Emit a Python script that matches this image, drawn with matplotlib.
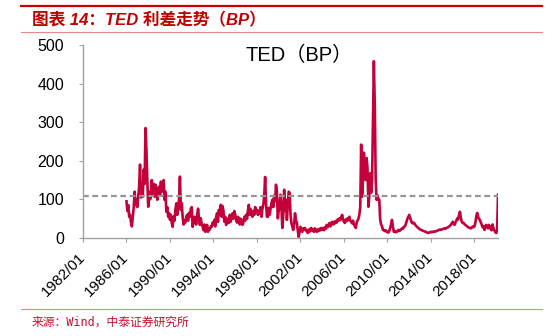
import numpy as np
import pandas as pd
import matplotlib
matplotlib.use('Agg')
import matplotlib.pyplot as plt
from matplotlib.lines import Line2D

# monthly TED spread (bp), 1986/01 .. 2020/03
ted_bp = [
    95, 70, 85, 55, 60, 40, 30, 55, 80, 120, 85, 100,          # 1986
    80, 110, 133, 190, 105, 130, 107, 177, 140, 285, 228, 150,  # 1987
    81, 120, 100, 107, 150, 110, 140, 107, 138, 120, 99, 130,   # 1988
    133, 110, 146, 120, 142, 150, 99, 120, 68, 80, 55, 64,      # 1989
    47, 60, 39, 29, 55, 45, 73, 90, 60, 73, 100, 159,           # 1990
    73, 90, 55, 35, 45, 40, 55, 60, 45, 65, 55, 76,             # 1991
    80, 29, 45, 55, 40, 35, 60, 76, 50, 34, 51, 35,             # 1992
    30, 20, 35, 16, 28, 34, 16, 25, 22, 30, 29, 40,             # 1993
    35, 47, 30, 55, 64, 42, 73, 60, 86, 55, 83, 70,             # 1994
    42, 55, 34, 45, 50, 39, 60, 42, 55, 64, 50, 70,             # 1995
    60, 47, 40, 55, 51, 35, 50, 45, 34, 40, 55, 45,             # 1996
    60, 50, 70, 86, 60, 75, 64, 55, 70, 60, 80, 68,             # 1997
    73, 60, 70, 64, 80, 55, 75, 86, 110, 158, 90, 55,           # 1998
    55, 78, 60, 75, 90, 99, 80, 110, 95, 138, 120, 51,          # 1999
    70, 90, 112, 80, 26, 60, 125, 70, 99, 47, 85, 120,          # 2000
    117, 60, 39, 30, 21, 35, 64, 45, 40, 20, 3, 16,             # 2001
    29, 20, 16, 25, 22, 26, 20, 18, 13, 22, 16, 24,             # 2002
    26, 18, 22, 16, 25, 20, 16, 22, 18, 24, 20, 26,             # 2003
    22, 26, 20, 28, 24, 34, 28, 32, 39, 30, 36, 42,             # 2004
    35, 42, 38, 44, 40, 48, 45, 51, 46, 55, 60, 48,             # 2005
    42, 39, 48, 44, 51, 46, 55, 45, 42, 38, 45, 35,             # 2006
    30, 26, 40, 45, 50, 60, 81, 242, 107, 150, 221, 180,        # 2007
    150, 207, 180, 81, 110, 168, 117, 150, 300, 458, 340, 150,  # 2008
    99, 110, 99, 99, 47, 35, 30, 21, 20, 18, 20, 16,            # 2009
    16, 14, 18, 26, 35, 47, 30, 16, 18, 15, 16, 17,             # 2010
    21, 18, 20, 22, 25, 24, 28, 30, 34, 42, 50, 55,             # 2011
    60, 52, 45, 39, 38, 40, 37, 33, 30, 28, 26, 24,             # 2012
    22, 21, 20, 19, 18, 17, 16, 15, 14, 13, 14, 15,             # 2013
    16, 15, 16, 17, 16, 17, 18, 19, 20, 21, 22, 21,             # 2014
    22, 23, 24, 25, 24, 26, 27, 28, 30, 32, 34, 38,             # 2015
    42, 38, 34, 40, 45, 51, 48, 60, 68, 52, 42, 39,             # 2016
    39, 36, 34, 32, 30, 28, 27, 26, 25, 27, 30, 28,             # 2017
    30, 40, 55, 65, 55, 50, 47, 40, 35, 28, 30, 21,             # 2018
    30, 34, 28, 25, 34, 30, 22, 20, 35, 25, 20, 15,             # 2019
    13, 20, 112,                                                # 2020
]
start_month = '1986-01-01'
mean_level = 110
tick_years = list(range(1982, 2019, 4))
y_ticks = [0, 100, 200, 300, 400, 500]

title = '图表 14：TED 利差走势（BP）'
inner_title = 'TED（BP）'
source = '来源：Wind，中泰证券研究所'

dates = pd.date_range(start_month, periods=len(ted_bp), freq='MS')

W, H = 548, 336
fig = plt.figure(figsize=(W / 100, H / 100), dpi=100)
ax = fig.add_axes([83 / W, 1 - 238 / H, (498 - 83) / W, (238 - 45) / H])

ax.plot(dates, ted_bp, color='#C4003A', lw=1.9)
ax.axhline(mean_level, color='#959595', lw=1.6, ls=(0, (2.6, 1.6)))

ax.set_xlim(pd.Timestamp('1982-01-01'), dates[-1])
ax.set_ylim(0, 500)
ax.set_yticks(y_ticks)
ax.set_yticklabels([str(v) for v in y_ticks], fontsize=11.5, family='Liberation Sans')

xt = [pd.Timestamp(f'{y}-01-01') for y in tick_years]
ax.set_xticks(xt)
ax.set_xticklabels([f'{y}/01' for y in tick_years], rotation=45, ha='right',
                   va='center', rotation_mode='anchor', fontsize=11,
                   family='Liberation Sans')

for s in ['top', 'right']:
    ax.spines[s].set_visible(False)
for s in ['left', 'bottom']:
    ax.spines[s].set_color('#A0A0A0')
    ax.spines[s].set_linewidth(1.0)
ax.tick_params(axis='y', length=3, color='#A0A0A0', pad=10.5)
ax.tick_params(axis='x', length=3, color='#A0A0A0', pad=9)

fig.text(245 / W, 1 - 55 / H, inner_title, fontsize=14.5, va='center', ha='left',
         family=['Liberation Sans', 'Noto Sans CJK SC'])

# header / footer rules and texts
fig.add_artist(Line2D([21 / W, 542 / W], [1 - 5.5 / H] * 2, color='#CC0000', lw=1.6))
fig.add_artist(Line2D([21 / W, 542 / W], [1 - 32.3 / H] * 2, color='#E48A8A', lw=0.8))
fig.add_artist(Line2D([21 / W, 542 / W], [1 - 309.3 / H] * 2, color='#E48A8A', lw=0.8))

fig.text(32 / W, 1 - 20 / H, title, fontsize=12, fontweight='bold', fontstyle='italic',
         color='#C00000', va='center', ha='left',
         family=['Liberation Sans', 'Noto Sans CJK SC'])
fig.text(32 / W, 1 - 322 / H, source, fontsize=8.5, color='#C8102E', va='center', ha='left',
         family=['DejaVu Sans Mono', 'Noto Sans CJK SC'])

fig.savefig('out.png', dpi=100)
